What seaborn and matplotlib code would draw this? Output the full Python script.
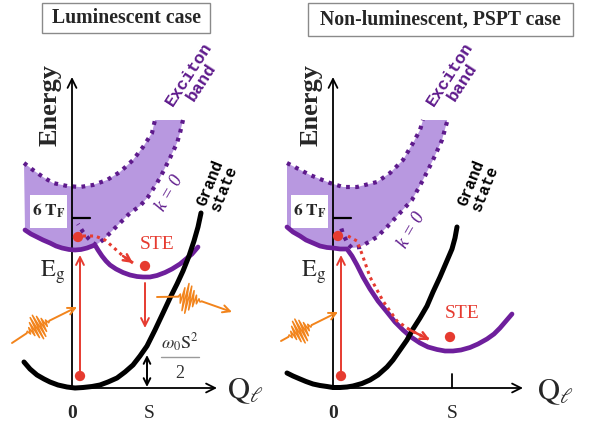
import numpy as np
import matplotlib
matplotlib.use("Agg")
import matplotlib.pyplot as plt
import seaborn as sns
from matplotlib.patches import Rectangle

# ---------------- data (schematic units: Q along x, energy along y; origin at axes crossing) -------------
# Left panel: luminescent case
L_ground_q = [-48, -42, -35, -28, -22, -14, -5, 3, 11, 20, 28, 36, 45, 53, 61, 68, 75, 83, 91,
              98, 105, 111, 117, 122, 126, 129]
L_ground_e = [26, 19, 13, 9, 6, 3, 1, 0, 0.5, 1.5, 3, 6, 10, 16, 23, 32, 42, 58, 75,
              90, 104, 117, 132, 147, 161, 175]
L_exc_q = [-47, -41, -35, -29, -22, -16, -10, -3, 3, 9, 15, 19, 23, 26, 30, 34, 38, 44, 51,
           58, 65, 71, 78, 85, 93, 100, 108, 114, 120, 126]
L_exc_e = [158, 154, 151, 148, 145, 142, 140, 138.5, 138, 138.5, 140, 141.5, 143, 138, 132,
           127, 123, 119, 115.5, 113, 111.5, 111, 111, 112.5, 115.5, 119, 124, 129, 134, 141]
L_top_q = [-48, -39, -29, -19, -5, 8, 21, 35, 48, 61, 71, 80, 83, 111]
L_top_e = [225, 218, 211, 205, 202, 201, 203, 208, 216, 228, 241, 255, 268, 268]
L_k0_q = [111, 108, 105, 98, 91, 85, 76, 68, 58, 48, 38, 31, 24, 20, 16, 11, 6]
L_k0_e = [268, 255, 245, 230, 216, 205, 191, 182, 175, 165, 155, 148, 143, 146, 150, 156, 164]
L_relax_q = [11, 23, 33, 41, 51, 61]
L_relax_e = [152, 152, 148, 141, 132, 125]
L_dots_q = [6, 73, 8]
L_dots_e = [151, 122, 12]

# Right panel: non-luminescent, PSPT case
R_ground_q = [-46, -40, -33, -27, -20, -13, -6, 0, 7, 14, 20, 29, 37, 45, 54, 60, 67, 74, 80,
              87, 94, 100, 107, 113, 119, 122, 124]
R_ground_e = [15, 12, 9, 6.5, 4, 2.5, 1.5, 0.5, 0.5, 1, 2, 4.5, 8, 13, 21, 28, 38, 48, 59,
              70, 82, 96, 111, 125, 139, 150, 161]
R_exc_q = [-46, -40, -33, -27, -20, -13, -6, 0, 7, 14, 19, 24, 30, 37, 45, 54, 62, 70, 78,
           87, 95, 104, 112, 120, 128, 137, 145, 154, 161, 167, 173, 179]
R_exc_e = [161, 156, 152, 148, 145, 142, 140.5, 140, 139, 139, 132, 123, 111, 99, 87, 76, 66,
           58, 51, 45, 41, 38.5, 37, 37, 38, 40.5, 44, 49, 54, 60, 67, 74]
R_top_q = [-46, -23, -3, 10, 24, 44, 57, 70, 80, 87, 90, 114]
R_top_e = [225, 213, 205, 201, 201, 206, 215, 228, 245, 258, 268, 268]
R_k0_q = [114, 109, 100, 90, 79, 67, 54, 44, 34, 27, 19, 15, 10, 7]
R_k0_e = [266, 248, 228, 208, 188, 175, 161, 151, 145, 141, 140, 144, 154, 164]
R_relax_q = [15, 24, 29, 37, 50, 64, 77, 97]
R_relax_e = [152, 147, 134, 111, 87, 67, 58, 48]
R_dots_q = [5, 117, 8]
R_dots_e = [152, 51, 12]

# wave-packet amplitudes (half-period samples)
packet_in = [0, 1.5, -2.5, 4, -6, 8, -10, 12, -13, 13, -12, 10, -8, 6, -4, 2.5, -1.5, 0]
packet_out = [0, 3, -6, 10, -13, 15, -15, 13, -11, 9, -7, 5, -3.5, 2, -1, 0]

titles = ["Luminescent case", "Non-luminescent, PSPT case"]

# ---------------- style ----------------
sns.set_theme(style="white")
plt.rcParams['font.family'] = ['Liberation Serif', 'DejaVu Serif']
plt.rcParams['mathtext.fontset'] = 'stix'

PURPLE = '#6e1f9c'
DOTPURPLE = '#5e1a8c'
FILL = '#b898e0'
RED = '#e63b30'
ORANGE = '#f2841c'

fig = plt.figure(figsize=(5.9, 4.28), dpi=100)
axL = fig.add_axes([0, 0, 280 / 590, 1])
axR = fig.add_axes([280 / 590, 0, 310 / 590, 1])
axL.set_xlim(-72, 208)
axR.set_xlim(-53, 257)
for ax in (axL, axR):
    ax.set_ylim(-40, 388)
    ax.axis('off')


def arrow(ax, start, tip, color, lw=1.4, style='->', ms=14, z=5):
    ax.annotate('', xy=tip, xytext=start,
                arrowprops=dict(arrowstyle=style, lw=lw, color=color, mutation_scale=ms,
                                shrinkA=0, shrinkB=0), zorder=z, annotation_clip=False)


def photon(ax, start, center, tip, amps, half_len):
    start, center, tip = map(np.asarray, (start, center, tip))
    u = (tip - start) / np.linalg.norm(tip - start)
    nrm = np.array([-u[1], u[0]])
    s = np.linspace(-half_len, half_len, len(amps))
    pts = center + np.outer(s, u) + np.outer(np.asarray(amps), nrm)
    ax.plot([start[0], pts[0, 0]], [start[1], pts[0, 1]], color=ORANGE, lw=1.4, zorder=6)
    ax.plot(pts[:, 0], pts[:, 1], color=ORANGE, lw=1.1, zorder=6)
    arrow(ax, tuple(pts[-1]), tuple(tip), ORANGE, lw=1.4, ms=13, z=6)


def panel(ax, ground_q, ground_e, exc_q, exc_e, top_q, top_e, k0_q, k0_e,
          relax_q, relax_e, dots_q, dots_e, qmax, emax, title, title_box, title_xy):
    # exciton band fill: upper edge, k=0 edge down to its vertex, then lower exciton curve
    iv = int(np.argmin(k0_e))
    qv = k0_q[iv]
    low = [(q, e) for q, e in zip(exc_q, exc_e) if q < qv][::-1]
    poly_q = top_q + k0_q[:iv + 1] + [p[0] for p in low]
    poly_e = top_e + k0_e[:iv + 1] + [p[1] for p in low]
    ax.fill(poly_q, poly_e, color=FILL, lw=0, zorder=1)
    ax.plot(top_q[:-1], top_e[:-1], color=DOTPURPLE, lw=3.0, linestyle=(0, (0.9, 1.3)),
            dash_capstyle='butt', zorder=2)
    ax.plot(k0_q, k0_e, color=DOTPURPLE, lw=3.0, linestyle=(0, (0.9, 1.3)),
            dash_capstyle='butt', zorder=2)
    # curves
    sns.lineplot(x=exc_q, y=exc_e, sort=False, estimator=None, color=PURPLE, lw=3.4,
                 ax=ax, zorder=4, solid_joinstyle='round')
    sns.lineplot(x=ground_q, y=ground_e, sort=False, estimator=None, color='black', lw=3.6,
                 ax=ax, zorder=4, solid_joinstyle='round')
    # axes
    arrow(ax, (0, -1), (0, emax), 'black', lw=1.3, ms=16, z=3)
    arrow(ax, (0, 0), (qmax, 0), 'black', lw=1.3, ms=16, z=3)
    ax.plot([1, 18], [170, 170], color='black', lw=1.6, zorder=3)
    # red relaxation path
    ax.plot(relax_q, relax_e, color=RED, lw=2.2, linestyle=(0, (1, 1.3)), zorder=5)
    arrow(ax, (relax_q[-2], relax_e[-2]), (relax_q[-1], relax_e[-1]), RED, lw=1.8, ms=13)
    # absorption arrow
    arrow(ax, (dots_q[2], dots_e[2]), (dots_q[2], 133), RED, lw=1.4, ms=14)
    sns.scatterplot(x=dots_q, y=dots_e, color=RED, s=55, edgecolor='none', ax=ax, zorder=7)
    # labels
    ax.text(-22, 283, 'Energy', rotation=90, fontsize=19, fontweight='bold',
            ha='center', va='center')
    ax.text(-19, 116, r'$\mathrm{E}_{\mathrm{g}}$', fontsize=17.5, ha='center', va='center')
    ax.add_patch(Rectangle((-42, 160), 37, 33, facecolor='white', edgecolor='none', zorder=3))
    ax.text(-23, 177, r'$\mathbf{6\ T}_{\mathbf{F}}$', fontsize=12.5, ha='center',
            va='center', zorder=4)
    ax.text(123, 310, 'Exciton\nband', rotation=57, fontsize=12.5, fontweight='bold',
            family='Liberation Mono', color=DOTPURPLE, ha='center', va='center',
            linespacing=0.95, multialignment='center')
    ax.text(145, 202, 'Grand\nstate', rotation=68, fontsize=11.5, fontweight='bold',
            family='Liberation Mono', color='black', ha='center', va='center',
            linespacing=0.95, multialignment='center')
    ax.text(0, -25, '0', fontsize=14, fontweight='bold', ha='center', va='center')
    ax.add_patch(Rectangle(title_box[0], title_box[1], title_box[2], facecolor='white',
                           edgecolor='#8a8a8a', lw=1.0, zorder=8))
    ax.text(title_xy[0], title_xy[1], title, fontsize=14.2, fontweight='bold',
            ha='center', va='center', zorder=9)


panel(axL, L_ground_q, L_ground_e, L_exc_q, L_exc_e, L_top_q, L_top_e, L_k0_q, L_k0_e,
      L_relax_q, L_relax_e, L_dots_q, L_dots_e, 145, 311, titles[0],
      ((-30, 355), 168, 30), (54, 370))
panel(axR, R_ground_q, R_ground_e, R_exc_q, R_exc_e, R_top_q, R_top_e, R_k0_q, R_k0_e,
      R_relax_q, R_relax_e, R_dots_q, R_dots_e, 190, 311, titles[1],
      ((-25, 352), 265, 33), (107, 368))

# left panel extras
axL.text(98, 195, 'k = 0', rotation=60, fontsize=13, style='italic', color=DOTPURPLE,
         ha='center', va='center')
axL.text(85, 144, 'STE', fontsize=14, color=RED, ha='center', va='center')
arrow(axL, (73, 105), (73, 60), RED, lw=1.4, ms=14)
arrow(axL, (75, 1), (75, 33), 'black', lw=1.4, style='<->', ms=12)
axL.text(108, 45, r'$\omega_0\mathrm{S}^2$', fontsize=13, color='#333333', ha='center',
         va='center')
axL.plot([89, 127], [31, 31], color='#9a9a9a', lw=1.0)
axL.text(108, 15, '2', fontsize=13, color='#333333', ha='center', va='center')
axL.text(77, -25, 'S', fontsize=14, ha='center', va='center')
axL.text(155, -3, r'$\mathrm{Q}_{\ell}$', fontsize=22, ha='left', va='center')
photon(axL, (-60, 45), (-34, 61), (5, 81), packet_in, 13)
photon(axL, (85, 91), (118, 89), (160, 76), packet_out, 12)

# right panel extras
axR.text(79, 158, 'k = 0', rotation=60, fontsize=13, style='italic', color=DOTPURPLE,
         ha='center', va='center')
axR.text(129, 74, 'STE', fontsize=14, color=RED, ha='center', va='center')
axR.plot([119, 119], [0, 14], color='black', lw=1.3)
axR.text(119, -25, 'S', fontsize=14, ha='center', va='center')
axR.text(204, -4, r'$\mathrm{Q}_{\ell}$', fontsize=22, ha='left', va='center')
photon(axR, (-52, 47), (-33, 57), (5, 76), packet_in, 13)

fig.savefig('out.png', dpi=100, facecolor='white')
